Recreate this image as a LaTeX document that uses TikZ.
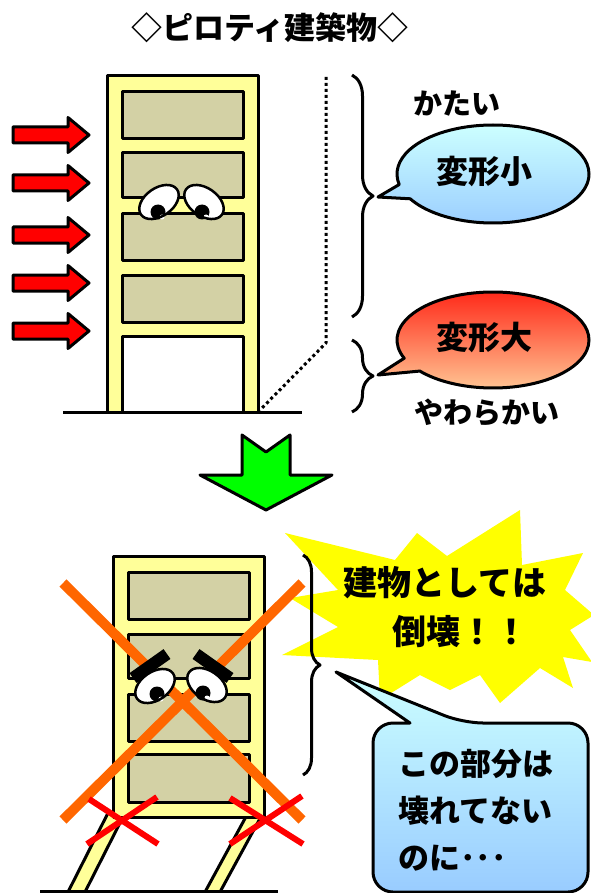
\documentclass[tikz,border=0pt]{standalone}
\usepackage{fontspec}
\newfontfamily\popfont{Noto Sans CJK JP}[BoldFont={Noto Sans CJK JP Black}]
\usetikzlibrary{shapes.callouts,decorations.pathreplacing}

\definecolor{frameyellow}{HTML}{FFFF99}
\definecolor{roomkhaki}{HTML}{D3D1A5}
\definecolor{windred}{HTML}{FF0000}
\definecolor{downgreen}{HTML}{00FF00}
\definecolor{xorange}{HTML}{FF6600}
\definecolor{bangyellow}{HTML}{FFFF00}
\definecolor{bubbletop}{HTML}{CCFFFF}
\definecolor{bubblebot}{HTML}{99CCFF}
\definecolor{hottop}{HTML}{FF2A1A}
\definecolor{hotbot}{HTML}{FFCC99}

\begin{document}
\begin{tikzpicture}[x=1pt,y=-1pt,line join=round,
    outline/.style={draw=black,line width=3pt},
    jp/.style={font={\popfont\bfseries\fontsize{#1}{#1}\selectfont}},
    bracket/.style={line width=3pt,decorate,decoration={brace,amplitude=#1}},
    eyelid/.style={draw=black,line width=2.5pt}]
  \tikzstyle{every node}+=[inner sep=0pt]
  \useasboundingbox (0,0) rectangle (590,893);

  \node[jp=31pt] (title) at (270,28) {◇ピロティ建築物◇};

  % wind load
  \foreach \y in {135,183,235,283,331}
    \draw[outline,fill=windred] (13,\y-8) -- (68,\y-8) -- (68,\y-17.5) -- (89,\y)
      -- (68,\y+17.5) -- (68,\y+8) -- (13,\y+8) -- cycle;

  % upper building
  \draw[outline,fill=frameyellow] (107,76) rectangle (258,412);
  \foreach \t/\b in {92/139,153/198,214/260,275/322}
    \draw[outline,fill=roomkhaki] (122,\t) rectangle (243,\b);
  \draw[outline,fill=white] (122,336) rectangle (243,412);
  \draw[line width=3pt] (63,412) -- (302,412);

  % eyes
  \foreach \cx/\cy/\a/\px in {159/202/35/158,204/202/-35/202}{
    \fill[white,rotate around={\a:(\cx,\cy)}] (\cx,\cy) ellipse (22 and 14);
    \fill (\px,\cy+10) circle (7.5);
    \fill[white] (\px+4,\cy+15) circle (2.5);
    \draw[eyelid,rotate around={\a:(\cx,\cy)}] (\cx,\cy) ellipse (22 and 14);
  }

  % deformed shape
  \draw[line width=3pt,dash pattern=on 3pt off 3pt] (326,77) -- (326,343) -- (260,410);

  \draw[bracket=21pt] (352,75) -- (352,317);
  \draw[bracket=21pt] (352,340) -- (352,412);
  \coordinate (hardtip) at (378,197);
  \coordinate (softtip) at (378,375);

  \node[jp=29pt] (hard) at (457,103) {かたい};
  \node[jp=29pt] (soft) at (487,413) {やわらかい};
  \node[ellipse callout,outline,top color=bubbletop,bottom color=bubblebot,
        minimum width=192pt,minimum height=98pt,callout pointer arc=18,
        callout absolute pointer={(hardtip)}] (small) at (493,174) {};
  \node[jp=32pt] (smalltext) at (484,171) {変形小};
  \node[ellipse callout,outline,top color=hottop,bottom color=hotbot,
        minimum width=192pt,minimum height=96pt,callout pointer arc=18,
        callout absolute pointer={(softtip)}] (large) at (493,340) {};
  \node[jp=32pt] (largetext) at (484,337) {変形大};

  % down arrow
  \draw[outline,fill=downgreen] (242,435) -- (266,452) -- (290,435) -- (290,475)
    -- (332,475) -- (266,510) -- (200,475) -- (242,475) -- cycle;

  % burst
  \fill[bangyellow] (285,533) -- (395,560) -- (417,533) -- (447,556) -- (520,510)
    -- (522,565) -- (583,553) -- (565,590) -- (594,615) -- (570,630) -- (592,662)
    -- (563,657) -- (573,688) -- (540,668) -- (500,703) -- (480,675) -- (450,690)
    -- (420,675) -- (380,700) -- (378,660) -- (282,655) -- (338,627) -- (290,598)
    -- (338,590) -- cycle;
  \node[jp=34pt] (collapse1) at (445,583) {建物としては};
  \node[jp=34pt] (collapse2) at (460,632) {倒壊！！};

  % lower building
  \draw[outline,fill=frameyellow] (108,813) -- (125,813) -- (85,892) -- (68,892) -- cycle;
  \draw[outline,fill=frameyellow] (248,813) -- (263,813) -- (220,892) -- (205,892) -- cycle;
  \draw[outline,fill=frameyellow] (113,556) rectangle (264,817);
  \foreach \t/\b in {572/619,634/678,694/741,754/802}
    \draw[outline,fill=roomkhaki] (128,\t) rectangle (249,\b);
  \draw[line width=3pt] (40,891) -- (278,891);

  \draw[xorange,line width=10pt] (63,583) -- (302,820);
  \draw[xorange,line width=10pt] (302,583) -- (63,820);

  \foreach \cx/\cy/\a/\px in {155/686/35/157,207/685/-35/203}{
    \fill[white,rotate around={\a:(\cx,\cy)}] (\cx,\cy) ellipse (22 and 14);
    \fill (\px,\cy+8) circle (7.5);
    \fill[white] (\px+4,\cy+13) circle (2.5);
    \draw[eyelid,rotate around={\a:(\cx,\cy)}] (\cx,\cy) ellipse (22 and 14);
  }
  \draw[line width=12pt] (133,678) -- (167,654);
  \draw[line width=12pt] (196,654) -- (230,678);

  \draw[windred,line width=6pt] (89,799) -- (158,844);
  \draw[windred,line width=6pt] (87,844) -- (157,797);
  \draw[windred,line width=6pt] (230,798) -- (303,844);
  \draw[windred,line width=6pt] (230,844) -- (302,796);

  \draw[bracket=17pt] (303,555) -- (303,775);

  % speech bubble
  \coordinate (moantip) at (336,672);
  \draw[outline,top color=bubbletop,bottom color=bubblebot]
    (moantip) -- (410,723) [rounded corners=20pt] -- (373,723) -- (373,892)
    -- (588,892) -- (588,723) -- (463,723) [sharp corners] -- cycle;
  \node[anchor=west,align=left,font={\popfont\bfseries\fontsize{31pt}{47pt}\selectfont}]
    (moan) at (398,810) {この部分は\\壊れてない\\のに･･･};
\end{tikzpicture}
\end{document}
